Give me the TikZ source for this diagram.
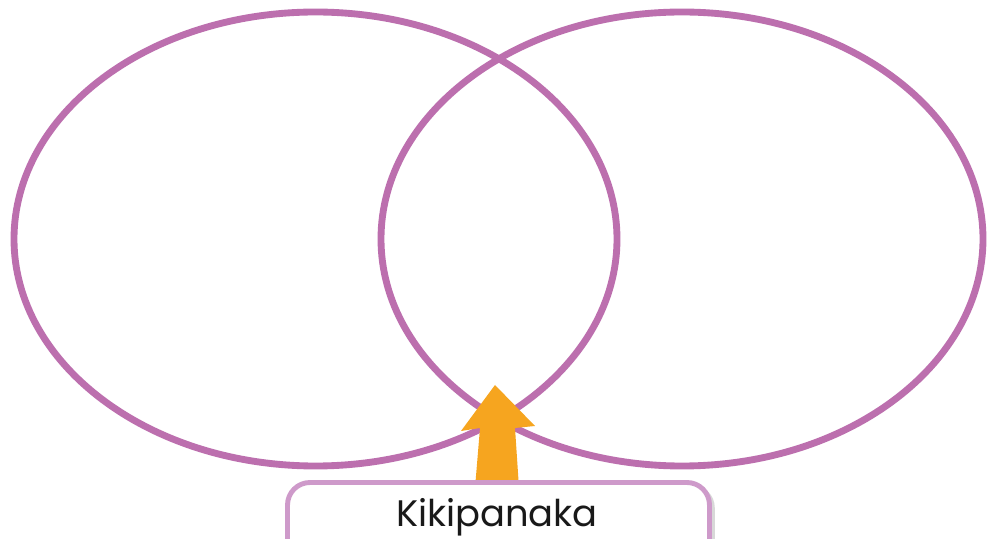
\documentclass[tikz,border=0pt]{standalone}
\usepackage{fontspec}
\setmainfont{Poppins}
\usetikzlibrary{shadows}
\definecolor{vennpurple}{HTML}{BC6FAE}
\definecolor{boxpurple}{HTML}{CE9ACA}
\definecolor{arroworange}{HTML}{F6A51F}
\tikzset{
	vennline/.style = {vennpurple, line width = 3.9pt},
	labelbox/.style = {draw = boxpurple, line width = 2.8pt, fill = white, rounded corners = 0.45cm,
		drop shadow = {opacity = 0.3, shadow xshift = 3pt, shadow yshift = -1.5pt}}
}
\begin{document}
\begin{tikzpicture} [x = 0.02cm, y = 0.02cm]
	\clip (0,0) rectangle (988,538);
	\fill [white] (0,0) rectangle (988,538);
	\draw [vennline] (315.5,299) ellipse (301.5 and 227);
	\draw [vennline] (682,299) ellipse (301 and 227);
	\coordinate (tip) at (495,153);
	\fill [arroworange] (tip) -- (535,112) -- (515,110) -- (519,50) -- (475,50) -- (480,110) -- (461,107) -- cycle;
	\draw [labelbox] (287.5,-30) rectangle (709.5,55.5);
	\node [anchor = base, text = black!90, font = \fontsize{21}{25}\selectfont] (label) at (497,11) {Kikipanaka};
\end{tikzpicture}
\end{document}
